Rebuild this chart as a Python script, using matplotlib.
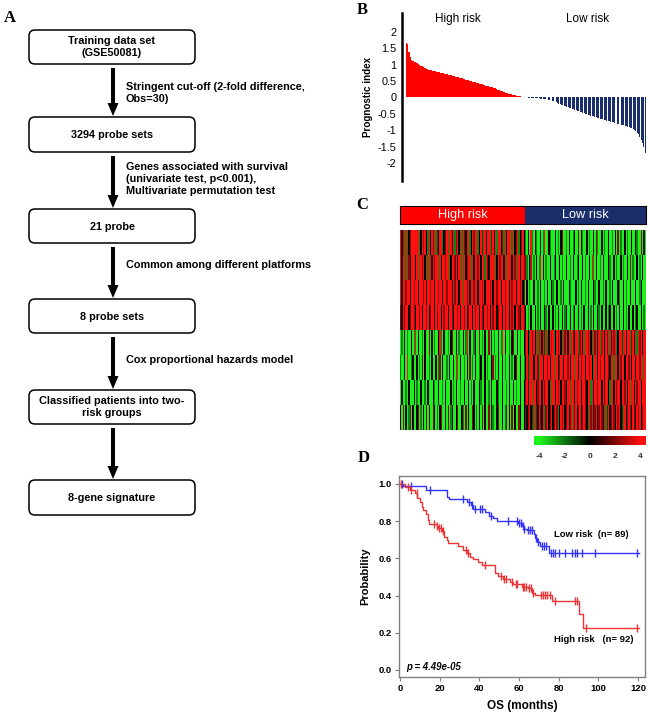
import numpy as np
import matplotlib
matplotlib.use('Agg')
import matplotlib.pyplot as plt
from matplotlib.patches import FancyBboxPatch, FancyArrow
from matplotlib.colors import LinearSegmentedColormap

plt.rcParams['font.family'] = ['Liberation Sans', 'DejaVu Sans']

# ---------------- data ----------------
box_labels = ["Training data set\n(GSE50081)", "3294 probe sets", "21 probe",
              "8 probe sets", "Classified patients into two-\nrisk groups",
              "8-gene signature"]
step_labels = ["Stringent cut-off (2-fold difference,\nObs=30)",
               "Genes associated with survival\n(univariate test, p<0.001),\nMultivariate permutation test",
               "Common among different platforms",
               "Cox proportional hazards model",
               ""]

group_names = ["High risk", "Low risk"]
n_high = 92
n_low = 89

pi_high = [1.65, 1.62, 1.40, 1.25, 1.15, 1.10, 1.08, 1.07, 1.05, 1.03,
           1.00, 0.97, 0.95, 0.93, 0.91, 0.88, 0.86, 0.85, 0.84, 0.83,
           0.82, 0.81, 0.80, 0.79, 0.78, 0.77, 0.76, 0.75, 0.74, 0.73,
           0.72, 0.71, 0.70, 0.69, 0.68, 0.66, 0.65, 0.64, 0.63, 0.62,
           0.60, 0.59, 0.58, 0.57, 0.56, 0.54, 0.53, 0.52, 0.50, 0.49,
           0.48, 0.47, 0.46, 0.45, 0.44, 0.42, 0.41, 0.40, 0.39, 0.37,
           0.36, 0.35, 0.34, 0.33, 0.32, 0.31, 0.30, 0.28, 0.26, 0.24,
           0.22, 0.20, 0.19, 0.17, 0.16, 0.15, 0.13, 0.12, 0.11, 0.10,
           0.09, 0.08, 0.07, 0.06, 0.05, 0.05, 0.04, 0.03, 0.03, 0.02,
           0.01, 0.01]
pi_low = [-0.01, -0.01, -0.01, -0.01, -0.02, -0.02, -0.02, -0.03, -0.03, -0.04,
          -0.04, -0.05, -0.05, -0.06, -0.07, -0.07, -0.08, -0.09, -0.10, -0.12,
          -0.13, -0.15, -0.17, -0.19, -0.20, -0.22, -0.23, -0.25, -0.26, -0.28,
          -0.29, -0.31, -0.32, -0.34, -0.35, -0.37, -0.38, -0.40, -0.41, -0.43,
          -0.44, -0.46, -0.47, -0.49, -0.50, -0.52, -0.53, -0.55, -0.56, -0.58,
          -0.59, -0.61, -0.62, -0.64, -0.65, -0.66, -0.67, -0.69, -0.70, -0.71,
          -0.72, -0.73, -0.74, -0.75, -0.76, -0.77, -0.78, -0.80, -0.81, -0.82,
          -0.83, -0.84, -0.85, -0.86, -0.87, -0.89, -0.90, -0.92, -0.94, -0.97,
          -1.00, -1.03, -1.07, -1.12, -1.20, -1.30, -1.40, -1.52, -1.68]
pi_ticks = [2, 1.5, 1, 0.5, 0, -0.5, -1, -1.5, -2]
pi_ticklabels = ["2", "1.5", "1", "0.5", "0", "-0.5", "-1", "-1.5", "-2"]

# heatmap: G=-4, g=-2.2, k=0, r=2.2, y=3, R=4
heat_code = {'G': -4.0, 'g': -2.2, 'k': 0.0, 'r': 2.2, 'y': 3.0, 'R': 4.0}
heat_high = [
    "RkyRgRkrRR RRRRgkRrRk gRkRrRgrkR RgkrRRgRkR grRkRgRrkR RgkRrRRgkR rgRkRRgrRk RgRRkrgRkR RRgRkrRgkr Rk",
    "RkRRgRrkRR RkRgRRrRkR gRRkRrRRgR kRRrRgRkRR rRkRRgRRkr RRgRkRRrRk RRgRrkRRRg RkRrRRkRgR RRkRrgRRkR Rr",
    "RkRRrRRkRR rRRkRRRrRk RRrRRkRRrR RkRRrRRRkR rRRkRRgRRr RkRRrRRkRR rRkRRRrRkR RrRRkRRrRR kRrRRkRRrR kr",
    "rkRrRRkrRR rkRRrRkRRr RkrRRkRrRR kRrRRkRRrk RRrRkRRrRk rRRkRrRRkR rkRRrRkRrR RkrRRkRrRR kRrRkRRrkR Rr",
    "GgGkGgGGkG RgGkGGgGkG GrGkGgGGkR gGkGGgGkrG GkGgGGkGgR GkGGgkGGrG gGkGGrGkGg GGkGgRGkGG gGkrGGkGgG Gk",
    "gGGkGRGGgk GGkGgGrGkG GgGkGGkGgr GkGGgGkGGk GgRGkGGgGk GrGgGkGGgk GGkGgGGkrG gGkGGkGgGG kGgGkrGGkG Gg",
    "GkGGgGkGGG kGgGGkGGgG kGGGkgGGkG GgGkGGGkGg GkGGgGGkGG kGgGkGGGkg GGkGGgGkGG GkgGGkGGgG kGGkGgGGkG Gk",
    "kGrGkGgrGk GGkrGgGkGr GkGGrkGgGk rGGkGrGgkG GkrGGkgGrG kGGrkGgGkG rGkGGrGkgG GkrGGkGgrG kGrGkGGrkG Gk",
]
heat_low = [
    "gGkGRgGkgG GkGgRGGkgG GGkGgGkrGG gGkGGgkGGr GkgGGkGgGG kGrgGGkGgG GkGGgGkGrG gGGkGgGGkG GkgGGrGkG",
    "rgGkyGgGkG gRGkGgGGkG GgkGGkGgGG kGGgGkGGgk GGkGgGGkGR gGkGGgGkGG GkgGGkGgGG kGgGGkGrGg GGkGgGkGG",
    "GkGgGGkGGg GkGGgGkGGk gGGkGGgGkG GGkgGGGkGg GkGGgGkGGG kgGGkGGgGk GGgGkGGGkg GGkGgGGkGG GkGGgkGGG",
    "kGgGkGGkGg GkGGkgGkGG kGgGkGGkGg kGGkGgkGGk GgGkGGkGgG kGGkgGkGGk GgkGGkGgGk GGkGgGkGGk GgkGGkGgG",
    "rRkgRrRkRg yRkRrgRkRy RgkRrRkgRr RkRgRrkRRg rRkRgRrRkg RrRkRgyRkR rgRkRrRgkR RrgRkRRgrR kRgRrRkRR",
    "kRrgRRkRRr gRRkRRrRkR RgRRkrRRkR RrRkRRgRRk RrRRkRRrRk gRRkRrRRkR RrkRRgRRkR rRRkRRrRkR RkRRrRgRR",
    "rRkRRgRRkr RRkRrRRkRg RRkRrRkRRr kRRgRRkRrR RkRRrkRRgR kRRrRRkRrR RkgRRkRrRR kRRrRkRRgR kRrRRkRRR",
    "rkrRkrgRrk RrkRgrRkrR krRrgkRrRk rRkrRgrRkr RkrRrkgRrR krRkrRrkRg rRkrRrkRrR krgRkrRrkR rkRrRkrRR",
]
cbar_ticks = [-4, -2, 0, 2, 4]

# Kaplan-Meier step functions (time in months, survival after step)
km_low_t = [0, 1.5, 13, 23.5, 24.5, 34, 36, 37, 43, 45, 47, 48.7, 59.5, 61.3,
            62.3, 63.8, 67.5, 68.3, 69.2, 70.6, 75, 120.5]
km_low_s = [1.0, 0.99, 0.967, 0.93, 0.917, 0.904, 0.886, 0.868, 0.85, 0.83,
            0.815, 0.80, 0.788, 0.773, 0.76, 0.75, 0.73, 0.707, 0.69, 0.666,
            0.627, 0.627]
km_low_cens = [0.8, 5.5, 15, 32, 35, 36.5, 38, 40.5, 41.5, 46, 54.5, 59, 60,
               61, 61.8, 62.5, 64.5, 65.5, 66.5, 68.5, 69.5, 71.5, 72.5, 73.5,
               76, 77, 78, 80, 83, 86.5, 88, 89, 91.5, 98.5, 119.5]
km_high_t = [0, 2.5, 5, 7.6, 8.8, 10, 11, 11.8, 13.2, 14, 14.8, 18.5, 19.3,
             21, 22.3, 23.5, 24.3, 29.4, 32, 33.6, 35.3, 37, 39.5, 41.2, 47.9,
             49.6, 52, 55.4, 57, 61.3, 64.7, 66.4, 68, 76.4, 90.4, 92.4, 120.5]
km_high_s = [1.0, 0.985, 0.97, 0.95, 0.927, 0.904, 0.877, 0.86, 0.838, 0.806,
             0.784, 0.775, 0.766, 0.748, 0.716, 0.698, 0.68, 0.666, 0.644,
             0.627, 0.609, 0.594, 0.582, 0.564, 0.519, 0.505, 0.487, 0.474,
             0.462, 0.448, 0.439, 0.412, 0.403, 0.372, 0.30, 0.227, 0.227]
km_high_cens = [0.6, 3.9, 5.5, 8.4, 17.3, 18.5, 19.7, 20.7, 21.9, 33.1, 34.5,
                43, 50.8, 52.5, 53.3, 56.5, 58.3, 59.2, 61.8, 62.7, 63.5, 65.2,
                66, 67, 71, 72, 73, 74, 75.6, 78, 88.3, 89.2, 93.8, 119.5]
km_labels = ["Low risk  (n= 89)", "High risk   (n= 92)"]
p_text = "p = 4.49e-05"
os_ticks = [0, 20, 40, 60, 80, 100, 120]
prob_ticks = [0.0, 0.2, 0.4, 0.6, 0.8, 1.0]

# ---------------- figure ----------------
W, H = 650, 714
fig = plt.figure(figsize=(6.5, 7.14), dpi=100)


def rect(x0, y0, x1, y1):
    return [x0 / W, 1 - y1 / H, (x1 - x0) / W, (y1 - y0) / H]


RED = '#FF0000'
NAVY = '#1A2E6C'

# ---- Panel B: prognostic index bars ----
axB = fig.add_axes(rect(402, 13, 646, 181))
axB.set_facecolor('none')
n_all = n_high + n_low
idx = np.arange(n_all)
axB.bar(idx[:n_high], pi_high, width=1.0, color=RED, linewidth=0)
axB.bar(idx[n_high:], pi_low, width=0.72, color=NAVY, linewidth=0)
axB.set_xlim(-3.3, n_all - 0.4)
axB.set_ylim(-2.55, 2.58)
for s in ['top', 'right', 'bottom']:
    axB.spines[s].set_visible(False)
axB.spines['left'].set_linewidth(1.8)
axB.set_xticks([])
axB.set_yticks(pi_ticks)
axB.set_yticklabels(pi_ticklabels)
axB.tick_params(axis='y', length=0, pad=4, labelsize=7.8)
axB.set_ylabel("Prognostic index", fontsize=7.1, fontweight='bold', labelpad=3)

# ---- Panel C header ----
axH = fig.add_axes(rect(400, 206, 646, 224))
axH.barh([0], [n_high], left=0, height=1.0, color=RED, linewidth=0)
axH.barh([0], [n_low], left=n_high, height=1.0, color=NAVY, linewidth=0)
axH.set_xlim(0, n_all)
axH.set_ylim(-0.5, 0.5)
axH.set_xticks([]); axH.set_yticks([])
for s in axH.spines.values():
    s.set_linewidth(0.8)
axH.text(n_high / 2, 0, group_names[0], color='white', fontsize=9.2,
         ha='center', va='center')
axH.text(n_high + n_low / 2, 0, group_names[1], color='white', fontsize=9.2,
         ha='center', va='center')

# ---- Panel C heatmap ----
rows = []
for hs, ls in zip(heat_high, heat_low):
    hs2 = hs.replace(' ', '')
    ls2 = ls.replace(' ', '')
    if len(hs2) != n_high or len(ls2) != n_low:
        raise ValueError(f"row lengths {len(hs2)} {len(ls2)}")
    rows.append([heat_code[c] for c in hs2 + ls2])
mat = np.array(rows)
cmap = LinearSegmentedColormap.from_list(
    'gkr', [(0.0, '#1EF01E'), (0.5, '#000000'), (1.0, '#FF1010')])
axC = fig.add_axes(rect(400, 230, 646, 430))
axC.imshow(mat, cmap=cmap, vmin=-4, vmax=4, aspect='auto',
           interpolation='nearest')
axC.axis('off')

# colour key
axK = fig.add_axes(rect(534, 436, 646, 445))
grad = np.linspace(-4.45, 4.45, 256)[None, :]
axK.imshow(grad, cmap=cmap, vmin=-4, vmax=4, aspect='auto',
           extent=(-4.45, 4.45, 0, 1))
axK.set_yticks([])
axK.set_xticks(cbar_ticks)
axK.set_xticklabels([str(t) for t in cbar_ticks], fontsize=6,
                    fontweight='bold', color='#333333')
axK.tick_params(axis='x', length=0, pad=6)
for s in axK.spines.values():
    s.set_visible(False)

# ---- Panel D: Kaplan-Meier ----
axD = fig.add_axes(rect(399, 476, 645, 677))
BLUE = '#3333FF'
KMRED = '#EE3333'
axD.step(km_low_t, km_low_s, where='post', color=BLUE, lw=1.0)
axD.step(km_high_t, km_high_s, where='post', color=KMRED, lw=1.0)


def surv_at(ts, ss, t):
    i = np.searchsorted(ts, t, side='right') - 1
    return ss[max(i, 0)]


axD.plot(km_low_cens, [surv_at(km_low_t, km_low_s, t) for t in km_low_cens],
         ls='none', marker='|', ms=6, mew=1.0, color=BLUE)
axD.plot(km_high_cens, [surv_at(km_high_t, km_high_s, t) for t in km_high_cens],
         ls='none', marker='|', ms=6, mew=1.0, color=KMRED)
axD.set_xlim(-0.5, 123.5)
axD.set_ylim(-0.038, 1.043)
axD.set_xticks(os_ticks)
axD.set_yticks(prob_ticks)
axD.set_yticklabels([f"{v:.1f}" for v in prob_ticks])
for s in axD.spines.values():
    s.set_color('#808080')
    s.set_linewidth(1.0)
axD.tick_params(length=3, color='#808080', labelsize=6.8, pad=2)
for lab in axD.get_xticklabels() + axD.get_yticklabels():
    lab.set_fontweight('bold')
axD.set_xlabel("OS (months)", fontsize=8.5, fontweight='bold', labelpad=5)
axD.set_ylabel("Probability", fontsize=8, fontweight='bold', labelpad=6)
axD.text(77.7, 0.726, km_labels[0], fontsize=6.8, fontweight='bold',
         ha='left', va='center')
axD.text(77.7, 0.161, km_labels[1], fontsize=6.8, fontweight='bold',
         ha='left', va='center')
axD.text(3.0, 0.016, p_text, fontsize=6.9, fontweight='bold', style='italic',
         ha='left', va='center')

# ---- overlay: panel A flowchart and labels ----
ax0 = fig.add_axes([0, 0, 1, 1], zorder=10)
ax0.set_xlim(0, W)
ax0.set_ylim(H, 0)
ax0.axis('off')

box_y = [(30, 64), (117, 152), (209, 243), (299, 333), (390, 424), (480, 515)]
bx0, bx1 = 29, 195
for (y0, y1), lab in zip(box_y, box_labels):
    ax0.add_patch(FancyBboxPatch((bx0, y0), bx1 - bx0, y1 - y0,
                                 boxstyle="round,pad=0,rounding_size=6",
                                 fc='white', ec='black', lw=1.1))
    ax0.text((bx0 + bx1) / 2, (y0 + y1) / 2 + 0.5, lab, fontsize=7.8,
             fontweight='bold', ha='center', va='center', linespacing=1.25)

ax_x = 113
step_text_y = [93, 179, 265, 360, 450]
for i in range(len(box_y) - 1):
    ystart = box_y[i][1] + 4
    yend = box_y[i + 1][0] - 1
    ax0.add_patch(FancyArrow(ax_x, ystart, 0, yend - ystart, width=4,
                             head_width=11, head_length=13,
                             length_includes_head=True, color='black', lw=0))
    if step_labels[i]:
        ax0.text(126, step_text_y[i], step_labels[i], fontsize=7.8,
                 fontweight='bold', ha='left', va='center', linespacing=1.3)

# B header labels
ax0.text(458, 19, group_names[0], fontsize=8.5, ha='center', va='center')
ax0.text(588, 19, group_names[1], fontsize=8.5, ha='center', va='center')

# panel letters
for letter, (lx, ly) in zip("ABCD", [(10, 18), (362, 10), (362, 205), (364, 458)]):
    ax0.text(lx, ly, letter, fontsize=12, fontweight='bold',
             family='Liberation Serif', ha='center', va='center')

fig.savefig('out.png', dpi=100)
